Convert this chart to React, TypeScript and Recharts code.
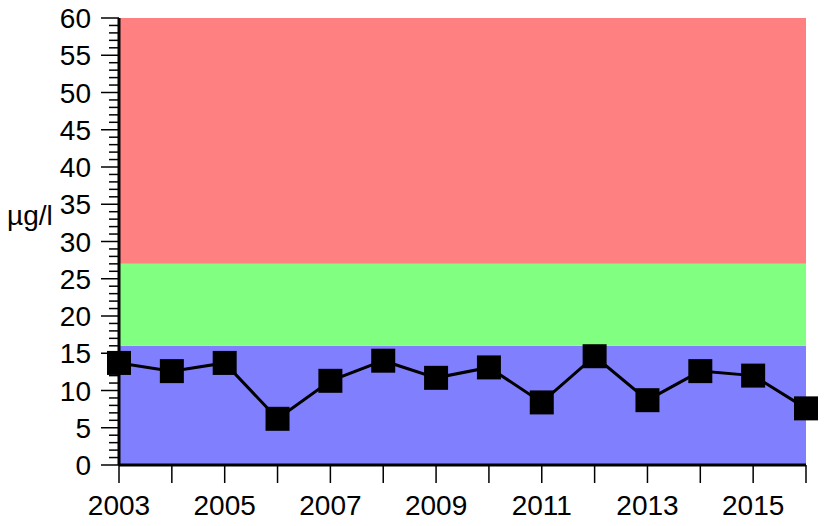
import React from "react";
import { ComposedChart, Line, XAxis, YAxis, ReferenceArea } from "recharts";

const years = [2003, 2004, 2005, 2006, 2007, 2008, 2009, 2010, 2011, 2012, 2013, 2014, 2015, 2016];
const values = [13.7, 12.6, 13.7, 6.2, 11.3, 14.0, 11.7, 13.1, 8.4, 14.6, 8.7, 12.6, 12.0, 7.6];
const yTicks = Array.from({ length: 61 }, (_, i) => i);
const bands = [
  { from: 0, to: 16, color: "#8080FF" },
  { from: 16, to: 27, color: "#80FF80" },
  { from: 27, to: 60, color: "#FF8080" },
];
const unitLabel = "µg/l";

const data = years.map((y, i) => ({ year: y, value: values[i] }));

const FONT = "'Liberation Sans', Arial, sans-serif";

const YTick = (props: any) => {
  const { x, y, payload } = props;
  const v = payload.value;
  const major = v % 5 === 0;
  return (
    <g>
      <line x1={x - (major ? 18 : 10)} x2={x} y1={y} y2={y} stroke="#000" strokeWidth={1.5} />
      {major && (
        <text x={x - 28} y={y} dy="0.36em" textAnchor="end" fontSize={28} fontFamily={FONT} fill="#000">
          {v}
        </text>
      )}
    </g>
  );
};

const XTick = (props: any) => {
  const { x, y, payload } = props;
  const v = payload.value;
  const labeled = (v - 2003) % 2 === 0;
  return (
    <g>
      <line x1={x} x2={x} y1={y} y2={y + 18} stroke="#000" strokeWidth={1.5} />
      {labeled && (
        <text x={x} y={y + 50} textAnchor="middle" fontSize={28} fontFamily={FONT} fill="#000">
          {v}
        </text>
      )}
    </g>
  );
};

const SquareDot = (props: any) => {
  const { cx, cy } = props;
  if (cx == null || cy == null) return null;
  return <rect x={cx - 12} y={cy - 12} width={24} height={24} fill="#000" />;
};

export default function App() {
  return (
    <div style={{ position: "absolute", left: 0, top: 0, width: 831, height: 526, background: "#fff" }}>
      <ComposedChart width={831} height={526} data={data} margin={{ top: 18, right: 25, left: 0, bottom: 0 }}>
        {bands.map((b) => (
          <ReferenceArea key={b.from} y1={b.from} y2={b.to} fill={b.color} fillOpacity={1} stroke="none" ifOverflow="visible" />
        ))}
        <XAxis
          dataKey="year"
          type="number"
          domain={[2003, 2016]}
          ticks={years}
          interval={0}
          height={61}
          tickLine={false}
          tickSize={0}
          tickMargin={0}
          tick={<XTick />}
          axisLine={{ stroke: "#000", strokeWidth: 3 }}
        />
        <YAxis
          type="number"
          domain={[0, 60]}
          ticks={yTicks}
          interval={0}
          width={119}
          tickLine={false}
          tickSize={0}
          tickMargin={0}
          tick={<YTick />}
          axisLine={{ stroke: "#000", strokeWidth: 3 }}
          label={{
            content: () => (
              <text x={7} y={225} fontSize={28} fontFamily={FONT} fill="#000">
                {unitLabel}
              </text>
            ),
          }}
        />
        <Line
          dataKey="value"
          stroke="#000"
          strokeWidth={3}
          dot={<SquareDot />}
          activeDot={false}
          isAnimationActive={false}
        />
      </ComposedChart>
    </div>
  );
}
